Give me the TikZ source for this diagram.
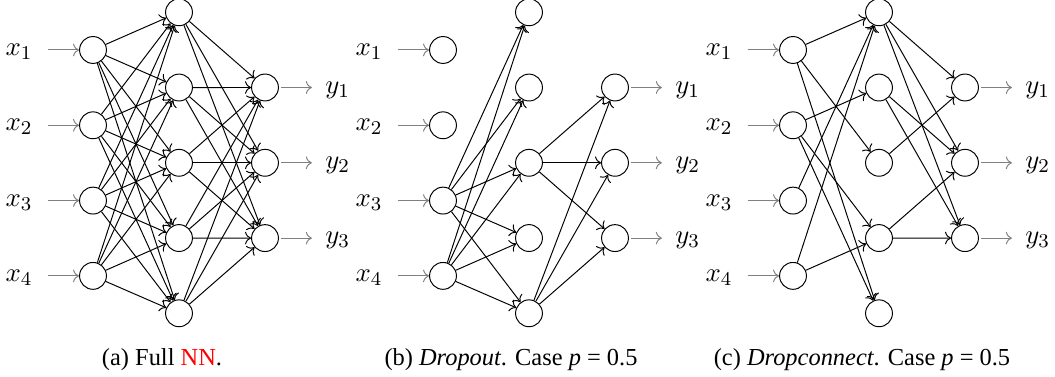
\documentclass[tikz,border=0pt]{standalone}
\usepackage[no-math]{fontspec}
\setmainfont{Liberation Serif}
\usepackage{xcolor}
\usepackage{tikz}
\usetikzlibrary{arrows.meta, positioning, calc}
\tikzset{
  neuron/.style = {
    circle, draw=black, thin, minimum size=11pt, inner sep=0pt
  },
  iolabel/.style = {font=\fontsize{11}{13}\selectfont, inner sep=3pt},
  ioarrow/.style = {->, draw=black!50},
  synapse/.style = {->, draw=black},
  subcap/.style  = {font=\fontsize{10}{12}\selectfont, anchor=base}
}

\begin{document}
\begin{tikzpicture}[x=0.4095pt, y=-0.4095pt]

\useasboundingbox (0,0) rectangle (1055,377);

% ----- NODES (one network per panel) -----
\foreach \p/\ox in {a/0, b/350, c/700} {
  % inputs
  \foreach \i in {1,...,4} {
    \node[neuron] (\p-in\i) at (\ox+93, 50+75.3*\i-75.3) {};
    \node[iolabel, anchor=mid] (\p-xl\i) at (\ox+19, 50+75.3*\i-75.3) {$x_\i$};
    \draw[ioarrow, shorten <=3pt] (\p-xl\i.mid east) -- (\p-in\i);
  }
  % hidden layer
  \foreach \j in {1,...,5}
    \node[neuron] (\p-hid\j) at (\ox+179, 12.3+75.25*\j-75.25) {};
  % outputs
  \foreach \k in {1,2,3} {
    \node[neuron] (\p-out\k) at (\ox+265, 87.5+75.3*\k-75.3) {};
    \node[iolabel, anchor=mid west] (\p-yl\k) at (\ox+317.5, 87.5+75.3*\k-75.3) {$y_\k$};
    \draw[ioarrow, shorten <=1pt, shorten >=2.3pt] (\p-out\k) -- (\p-yl\k.mid west);
  }
}

% ----- (a) full network -----
\foreach \i in {1,...,4}
  \foreach \j in {1,...,5}
    \draw[synapse] (a-in\i) -- (a-hid\j);
\foreach \j in {1,...,5}
  \foreach \k in {1,2,3}
    \draw[synapse] (a-hid\j) -- (a-out\k);

% ----- (b) dropout: only x3, x4 and h3, h5 survive -----
\foreach \i in {3,4}
  \foreach \j in {1,...,5}
    \draw[synapse] (b-in\i) -- (b-hid\j);
\foreach \j in {3,5}
  \foreach \k in {1,2,3}
    \draw[synapse] (b-hid\j) -- (b-out\k);

% ----- (c) dropconnect: single links removed -----
\foreach \i/\j in {1/1, 1/3, 1/5, 2/2, 2/4, 2/5, 3/1, 4/1, 4/4}
  \draw[synapse] (c-in\i) -- (c-hid\j);
\foreach \j/\k in {1/1, 1/2, 1/3, 2/2, 2/3, 3/1, 4/2, 4/3}
  \draw[synapse] (c-hid\j) -- (c-out\k);

% ----- CAPTIONS -----
\node[subcap] (capa) at (162,366) {(a) Full \textcolor{red}{NN}.};
\node[subcap] (capb) at (511,366) {(b) \textit{Dropout}. Case \textit{p} = 0.5};
\node[subcap] (capc) at (862,366) {(c) \textit{Dropconnect}. Case \textit{p} = 0.5};

\end{tikzpicture}
\end{document}
